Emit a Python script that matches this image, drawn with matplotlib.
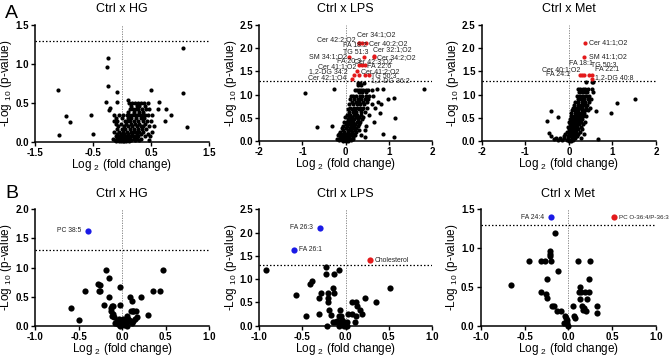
import matplotlib
matplotlib.use("Agg")
import matplotlib.pyplot as plt
import numpy as np

plt.rcParams['font.family'] = ['Liberation Sans', 'DejaVu Sans']
plt.rcParams['mathtext.fontset'] = 'custom'
plt.rcParams['mathtext.rm'] = 'Liberation Sans'
plt.rcParams['mathtext.it'] = 'Liberation Sans:italic'
plt.rcParams['mathtext.bf'] = 'Liberation Sans:bold'

# ---------------- DATA ----------------
titles = ["Ctrl x HG", "Ctrl x LPS", "Ctrl x Met"]

# Panel A - Ctrl x HG (black points only)
A_hg_x = [1.06, -0.24, -0.26, -0.25, -1.11, -0.09, 0.50, 1.06, -0.28, -0.09, 0.11, -0.97, -0.89, -0.54,
          -0.50, -1.09, 1.12, 0.85, 0.74, 0.75, 0.64, -0.20, -0.22,
          0.12, 0.17, 0.22, 0.28, 0.33, 0.38, 0.45,
          0.15, 0.25, 0.30, 0.40,
          0.13, 0.19, 0.24, 0.27, 0.35, 0.41, 0.47, 0.62,
          0.10, 0.20, 0.29, 0.36,
          -0.14, -0.05, 0.02, 0.08, 0.12, 0.18, 0.22, 0.26, 0.31, 0.34, 0.40, 0.45, 0.52,
          -0.10, 0.00, 0.10, 0.16, 0.24, 0.33, 0.38,
          -0.13, -0.08, 0.05, 0.09, 0.14, 0.20, 0.28, 0.36, 0.43, 0.50,
          -0.11, -0.02, 0.07, 0.15, 0.22, 0.30, 0.40,
          -0.07, 0.03, 0.11, 0.17, 0.25, 0.32, 0.37, 0.46, 0.55,
          -0.09, 0.00, 0.06, 0.13, 0.21, 0.27, 0.34, 0.42,
          -0.13, -0.05, 0.02, 0.08, 0.15, 0.19, 0.24, 0.30, 0.37, 0.52,
          -0.08, -0.02, 0.04, 0.10, 0.18, 0.26, 0.33, 0.45,
          -0.11, -0.06, -0.01, 0.03, 0.07, 0.12, 0.17, 0.22, 0.28, 0.40, 0.48,
          -0.15, -0.09, -0.04, 0.00, 0.03, 0.06, 0.09, 0.14, 0.20, 0.25, 0.33,
          -0.12, -0.07, -0.03, 0.01, 0.05, 0.08, 0.11, 0.16, 0.23, 0.30, 0.47,
          -0.10, -0.05, -0.02, 0.02, 0.04, 0.07, 0.12]
A_hg_y = [1.20, 1.07, 0.96, 0.71, 0.66, 0.64, 0.66, 0.63, 0.51, 0.51, 0.54, 0.33, 0.25, 0.34,
          0.10, 0.08, 0.19, 0.34, 0.27, 0.42, 0.51, 0.43, 0.41,
          0.50, 0.50, 0.50, 0.50, 0.50, 0.50, 0.50,
          0.46, 0.46, 0.46, 0.46,
          0.42, 0.42, 0.42, 0.42, 0.42, 0.42, 0.42, 0.42,
          0.38, 0.38, 0.38, 0.38,
          0.34, 0.34, 0.34, 0.34, 0.34, 0.34, 0.34, 0.34, 0.34, 0.34, 0.34, 0.34, 0.34,
          0.30, 0.30, 0.30, 0.30, 0.30, 0.30, 0.30,
          0.27, 0.27, 0.27, 0.27, 0.27, 0.27, 0.27, 0.27, 0.27, 0.27,
          0.23, 0.23, 0.23, 0.23, 0.23, 0.23, 0.23,
          0.20, 0.20, 0.20, 0.20, 0.20, 0.20, 0.20, 0.20, 0.20,
          0.16, 0.16, 0.16, 0.16, 0.16, 0.16, 0.16, 0.16,
          0.13, 0.13, 0.13, 0.13, 0.13, 0.13, 0.13, 0.13, 0.13, 0.13,
          0.10, 0.10, 0.10, 0.10, 0.10, 0.10, 0.10, 0.10,
          0.07, 0.07, 0.07, 0.07, 0.07, 0.07, 0.07, 0.07, 0.07, 0.07, 0.07,
          0.04, 0.04, 0.04, 0.04, 0.04, 0.04, 0.04, 0.04, 0.04, 0.04, 0.04,
          0.02, 0.02, 0.02, 0.02, 0.02, 0.02, 0.02, 0.02, 0.02, 0.02, 0.02,
          0.005, 0.005, 0.005, 0.005, 0.005, 0.005, 0.005]

# Panel A - Ctrl x LPS
A_lps_x = [-0.93, -0.28, 1.81, -0.67, -0.32, 1.13, 1.14, 1.13, 0.87, 0.72, 0.86, 0.97, 0.80,
           0.29, 0.33, 0.43,
           0.28, 0.36,
           0.22, 0.27, 0.31, 0.36, 0.40, 0.46, 0.52, 0.60,
           0.30, 0.38, 0.48,
           0.12, 0.18, 0.25, 0.33, 0.39, 0.47, 0.55, 0.64,
           0.10, 0.20, 0.28, 0.36, 0.44, 0.52,
           0.15, 0.24, 0.31, 0.40, 0.50, 0.75,
           0.08, 0.17, 0.27, 0.34, 0.43, 0.60, 0.82,
           0.10, 0.19, 0.26, 0.33, 0.41, 0.49, 0.67,
           0.05, 0.14, 0.22, 0.30, 0.38,
           0.08, 0.17, 0.25, 0.35, 0.45,
           0.02, 0.11, 0.20, 0.27, 0.35, 0.55,
           -0.02, 0.07, 0.15, 0.23, 0.31, 0.40,
           0.05, 0.13, 0.20, 0.29, 0.38,
           -0.04, 0.03, 0.10, 0.18, 0.26, 0.34, 0.65,
           0.00, 0.08, 0.15, 0.22, 0.30,
           -0.05, 0.04, 0.12, 0.20, 0.28, 0.47,
           -0.08, 0.01, 0.09, 0.17, 0.25,
           -0.06, 0.05, 0.13, 0.21, 0.30, 0.45,
           -0.12, -0.03, 0.06, 0.14, 0.24,
           -0.15, -0.07, 0.02, 0.10, 0.19,
           -0.18, -0.10, -0.02, 0.05, 0.13, 0.22, 0.35,
           -0.14, -0.06, 0.01, 0.08, 0.16, 0.45,
           -0.20, -0.11, -0.04, 0.03, 0.10, 0.18,
           -0.16, -0.08, -0.02, 0.04, 0.12,
           -0.05, 0.00, 0.06]
A_lps_y = [1.03, 1.13, 1.13, 0.31, 0.33, 0.92, 0.49, 0.09, 0.16, 1.13, 1.13, 0.91, 0.60,
           1.26, 1.26, 1.26,
           1.20, 1.20,
           1.10, 1.10, 1.10, 1.10, 1.10, 1.10, 1.10, 1.10,
           1.05, 1.05, 1.05,
           0.97, 0.97, 0.97, 0.97, 0.97, 0.97, 0.97, 0.97,
           0.91, 0.91, 0.91, 0.91, 0.91, 0.91,
           0.85, 0.85, 0.85, 0.85, 0.85, 0.85,
           0.80, 0.80, 0.80, 0.80, 0.80, 0.80, 0.80,
           0.72, 0.72, 0.72, 0.72, 0.72, 0.72, 0.72,
           0.68, 0.68, 0.68, 0.68, 0.68,
           0.63, 0.63, 0.63, 0.63, 0.63,
           0.57, 0.57, 0.57, 0.57, 0.57, 0.57,
           0.52, 0.52, 0.52, 0.52, 0.52, 0.52,
           0.47, 0.47, 0.47, 0.47, 0.47,
           0.42, 0.42, 0.42, 0.42, 0.42, 0.42, 0.42,
           0.37, 0.37, 0.37, 0.37, 0.37,
           0.33, 0.33, 0.33, 0.33, 0.33, 0.33,
           0.28, 0.28, 0.28, 0.28, 0.28,
           0.24, 0.24, 0.24, 0.24, 0.24, 0.24,
           0.20, 0.20, 0.20, 0.20, 0.20,
           0.16, 0.16, 0.16, 0.16, 0.16,
           0.12, 0.12, 0.12, 0.12, 0.12, 0.12, 0.12,
           0.08, 0.08, 0.08, 0.08, 0.08, 0.08,
           0.05, 0.05, 0.05, 0.05, 0.05, 0.05,
           0.02, 0.02, 0.02, 0.02, 0.02,
           0.005, 0.005, 0.005]

A_lps_red_x = [0.39, 0.32, 0.47, 0.32, 0.66, 0.43, 0.08, 0.66, 0.26, 0.38, 0.32, 0.44, 0.19, 0.315, 0.146, 0.44, 0.546]
A_lps_red_y = [2.12, 2.12, 2.12, 2.11, 1.83, 1.81, 1.81, 1.80, 1.515, 1.64, 1.63, 1.64, 1.415, 1.415, 1.336, 1.415, 1.415]
A_lps_red_lab = ["Cer 34:1;O2", "Cer 42:2;O2", "Cer 40:2;O2", "FA 18:2", "Cer 32:1;O2", "TG 51:3",
                 "SM 34:1;O2", "Cer 34:2;O2", "FA 20:3", "Cer 42:3;O2", "Cer 41:1;O2", "FA 22:6",
                 "1,2-DG 34:2", "Cer 41:2;O2", "Cer 42:1;O4", "TG 50:3", "1,2-DG 36:2"]

# Panel A - Ctrl x Met
A_met_x = [1.51, 1.10, 0.96, 0.63, -0.42, -0.245, -0.50, -0.46, -0.40, -0.35, 0.67,
           0.40, 0.52, 0.55,
           0.20, 0.26, 0.32, 0.38, 0.45, 0.52,
           0.23, 0.30, 0.36, 0.42, 0.56,
           0.18, 0.25, 0.33, 0.40, 0.47,
           0.20, 0.28, 0.35, 0.43, 0.50,
           0.15, 0.22, 0.30, 0.38, 0.46,
           0.12, 0.20, 0.27, 0.34, 0.42,
           0.10, 0.17, 0.24, 0.31, 0.39, 0.48,
           0.08, 0.15, 0.22, 0.30, 0.37, 0.44,
           0.06, 0.13, 0.20, 0.27, 0.35,
           0.04, 0.11, 0.18, 0.25, 0.33, 0.40,
           0.02, 0.09, 0.16, 0.23, 0.30,
           0.00, 0.07, 0.14, 0.21, 0.28, 0.36,
           0.03, 0.10, 0.17, 0.24, 0.32,
           -0.02, 0.05, 0.12, 0.19, 0.27,
           0.00, 0.08, 0.15, 0.22, 0.30,
           -0.05, 0.03, 0.10, 0.17, 0.25,
           -0.08, 0.01, 0.07, 0.14, 0.22, 0.35,
           -0.12, -0.03, 0.04, 0.11, 0.19,
           -0.30, -0.20, -0.10, -0.01, 0.07, 0.15, 0.28,
           -0.25, -0.15, -0.05, 0.02, 0.10,
           0.00, 0.05]
A_met_y = [0.905, 0.81, 0.60, 0.64, 0.65, 0.51, 0.44, 0.18, 0.10, 0.05, 0.04,
           1.27, 1.27, 1.27,
           1.12, 1.12, 1.12, 1.12, 1.12, 1.12,
           1.05, 1.05, 1.05, 1.05, 1.05,
           0.97, 0.97, 0.97, 0.97, 0.97,
           0.90, 0.90, 0.90, 0.90, 0.90,
           0.84, 0.84, 0.84, 0.84, 0.84,
           0.78, 0.78, 0.78, 0.78, 0.78,
           0.72, 0.72, 0.72, 0.72, 0.72, 0.72,
           0.66, 0.66, 0.66, 0.66, 0.66, 0.66,
           0.60, 0.60, 0.60, 0.60, 0.60,
           0.54, 0.54, 0.54, 0.54, 0.54, 0.54,
           0.48, 0.48, 0.48, 0.48, 0.48,
           0.42, 0.42, 0.42, 0.42, 0.42, 0.42,
           0.36, 0.36, 0.36, 0.36, 0.36,
           0.30, 0.30, 0.30, 0.30, 0.30,
           0.25, 0.25, 0.25, 0.25, 0.25,
           0.20, 0.20, 0.20, 0.20, 0.20,
           0.15, 0.15, 0.15, 0.15, 0.15, 0.15,
           0.10, 0.10, 0.10, 0.10, 0.10,
           0.06, 0.06, 0.06, 0.06, 0.06, 0.06, 0.06,
           0.03, 0.03, 0.03, 0.03, 0.03,
           0.01, 0.01]

A_met_red_x = [0.36, 0.34, 0.30, 0.46, 0.35, 0.52, 0.26, 0.52]
A_met_red_y = [2.11, 1.81, 1.42, 1.42, 1.42, 1.42, 1.42, 1.33]
A_met_red_lab = ["Cer 41:1;O2", "SM 41:1;O2", "FA 18:1", "TG 50:3", "Cer 40:1;O2", "FA 22:1", "FA 24:1", "1,2-DG 40:8"]

# Panel B - Ctrl x HG
B_hg_x = [-0.59, -0.49, -0.43, -0.28, -0.25, -0.27, -0.25, -0.21, -0.18, -0.15, -0.15, -0.13, -0.12, -0.10,
          -0.13, -0.11, -0.12, -0.09, -0.02, -0.02, -0.04, -0.06, -0.05, -0.03, 0.00, 0.01, 0.03, 0.05,
          0.07, 0.06, 0.02, -0.01, 0.09, 0.11, 0.10, 0.12, 0.13, 0.16, 0.15, 0.17, 0.13, 0.11, 0.22,
          0.30, 0.35, 0.44, 0.47, 0.06, 0.08, -0.08]
B_hg_y = [0.30, 0.09, 0.60, 0.72, 0.70, 0.60, 0.60, 0.36, 0.96, 0.82, 0.50, 0.30, 0.34, 0.34,
          0.25, 0.20, 0.17, 0.15, 0.66, 0.36, 0.12, 0.08, 0.03, 0.00, 0.05, 0.12, 0.05, 0.00,
          0.12, 0.06, 0.02, 0.01, 0.50, 0.42, 0.25, 0.26, 0.26, 0.26, 0.12, 0.15, 0.08, 0.05, 0.50,
          0.19, 0.60, 0.60, 0.96, 0.17, 0.10, 0.05]
B_hg_blue_x = [-0.39]
B_hg_blue_y = [1.63]
B_hg_blue_lab = ["PC 38:5"]

# Panel B - Ctrl x LPS
B_lps_x = [-0.92, -0.57, -0.46, -0.41, -0.39, -0.31, -0.28, -0.31, -0.23, -0.23, -0.21, -0.21, -0.20, -0.22,
           -0.19, -0.17, -0.15, -0.13, -0.13, -0.08, -0.15, -0.12, -0.10, -0.08, -0.06, -0.05, -0.04, -0.08,
           -0.05, -0.02, 0.00, 0.02, 0.01, 0.03, 0.07, 0.07, 0.12, 0.13, 0.12, 0.11, 0.17, 0.19, 0.22,
           0.35, 0.51, -0.02]
B_lps_y = [1.20, 0.66, 0.20, 0.90, 0.96, 0.60, 0.70, 0.26, 1.26, 1.10, 0.70, 0.60, 0.50, 0.00,
           0.34, 0.24, 0.82, 0.70, 1.10, 1.20, 0.07, 0.07, 0.10, 0.20, 0.34, 0.20, 0.12, 0.00,
           0.03, 0.07, 0.00, 0.00, 0.07, 0.26, 0.26, 0.50, 0.50, 0.43, 0.20, 0.07, 0.34, 0.26, 0.60,
           0.50, 0.80, 0.00]
B_lps_blue_x = [-0.30, -0.60]
B_lps_blue_y = [2.10, 1.63]
B_lps_blue_lab = ["FA 26:3", "FA 26:1"]
B_lps_red_x = [0.28]
B_lps_red_y = [1.41]
B_lps_red_lab = ["Cholesterol"]

# Panel B - Ctrl x Met
B_met_x = [-0.66, -0.45, -0.31, -0.27, -0.20, -0.31, -0.25, -0.24, -0.24, -0.21, -0.21, -0.21, -0.19, -0.16,
           -0.15, -0.13, -0.12, -0.08, -0.04, -0.03, -0.05, -0.02, -0.01, 0.00, 0.05, 0.06, 0.08, 0.11,
           0.12, 0.13, 0.13, 0.15, 0.17, 0.18, 0.19, 0.21, 0.23, 0.24, 0.25, 0.33, 0.33, 0.16, 0.20]
B_met_y = [0.53, 0.83, 0.83, 0.83, 0.83, 0.43, 0.41, 0.36, 0.60, 0.96, 0.93, 0.90, 0.26, 0.26,
           1.20, 0.19, 0.71, 0.19, 0.13, 0.10, 0.03, 0.07, 0.03, 0.00, 0.26, 0.13, 0.10, 0.83,
           0.43, 0.50, 0.34, 0.43, 0.20, 0.23, 0.43, 0.34, 0.43, 0.60, 0.83, 0.26, 0.17, 0.26, 0.19]
B_met_blue_x = [-0.20]
B_met_blue_y = [1.40]
B_met_blue_lab = ["FA 24:4"]
B_met_red_x = [0.52]
B_met_red_y = [1.40]
B_met_red_lab = ["PC O-36:4/P-36:3"]

# axis settings per panel
A_xlims = [(-1.5, 1.5), (-2, 2), (-2, 2)]
A_xticks = [[-1.5, -0.5, 0.5, 1.5], [-2, -1, 0, 1, 2], [-2, -1, 0, 1, 2]]
A_ylims = [(0, 1.5), (0, 2.5), (0, 2.5)]
B_ylims = [(0, 2.0), (0, 2.5), (0, 1.5)]
threshold = 1.3

# ---------------- PLOT ----------------
W, H = 670, 358
fig = plt.figure(figsize=(W / 100, H / 100), dpi=100)

def px_axes(x0, y0, x1, y1):
    return fig.add_axes([x0 / W, 1 - y1 / H, (x1 - x0) / W, (y1 - y0) / H])

RED = '#e31a1c'
BLUE = '#1a1ae6'

def style(ax, xlim, ylim, xticks, xfmt, title, wpx, hpx):
    ax.set_xlim(*xlim)
    ax.set_ylim(*ylim)
    ax.set_xticks(xticks)
    ax.set_xticklabels([xfmt(t) for t in xticks])
    yt = np.arange(ylim[0], ylim[1] + 0.01, 0.5)
    ax.set_yticks(yt)
    ax.set_yticklabels(["%.1f" % t for t in yt])
    for s in ['top', 'right']:
        ax.spines[s].set_visible(False)
    for s in ['left', 'bottom']:
        ax.spines[s].set_linewidth(1.1)
        ax.spines[s].set_color('black')
    ax.tick_params(axis='both', length=3, width=1.0, labelsize=7, pad=1.5, color='black')
    for lab in ax.get_xticklabels() + ax.get_yticklabels():
        lab.set_fontweight('bold')
    ax.axhline(threshold, color='black', ls=(0, (1.2, 1.6)), lw=0.9, zorder=1)
    ax.axvline(0, color='#777777', ls=(0, (1.5, 1.5)), lw=0.6, zorder=1)
    ax.set_title(title, fontsize=9, pad=9)
    ax.set_xlabel(r'Log $_{2}$ (fold change)', fontsize=8.5)
    ax.set_ylabel(r'-Log $_{10}$ (p-value)', fontsize=8.5)
    ax.xaxis.set_label_coords(0.5, -15.5 / hpx)
    ax.yaxis.set_label_coords(-20.5 / wpx, 0.5)

fmtA0 = lambda t: "%.1f" % t
fmtInt = lambda t: "%d" % t

A_boxes = [(35, 25, 209, 141.7), (259.3, 25, 432, 141), (481.7, 25, 656, 141)]
B_boxes = [(35, 209.3, 209.3, 325.7), (259.3, 209.3, 432, 325.7), (480.7, 209.3, 656, 325.7)]
axA = [px_axes(*b) for b in A_boxes]
axB = [px_axes(*b) for b in B_boxes]

sA = 9
sB = 20

# A row
axA[0].scatter(A_hg_x, A_hg_y, s=sA, c='black', lw=0, clip_on=False, zorder=3)
axA[1].scatter(A_lps_x, A_lps_y, s=sA, c='black', lw=0, clip_on=False, zorder=3)
axA[1].scatter(A_lps_red_x, A_lps_red_y, s=sA, c=RED, lw=0, clip_on=False, zorder=4)
axA[2].scatter(A_met_x, A_met_y, s=sA, c='black', lw=0, clip_on=False, zorder=3)
axA[2].scatter(A_met_red_x, A_met_red_y, s=sA, c=RED, lw=0, clip_on=False, zorder=4)

for i, ax in enumerate(axA):
    b = A_boxes[i]
    style(ax, A_xlims[i], A_ylims[i], A_xticks[i], fmtA0 if i == 0 else fmtInt, titles[i],
          b[2] - b[0], b[3] - b[1])

# label placement for A-LPS (text anchor in data units, alignment)
lps_lab_pos = [(0.254, 2.30, 'left'), (0.238, 2.18, 'right'), (0.546, 2.11, 'left'), (-0.07, 2.05, 'left'),
               (0.625, 1.98, 'left'), (-0.07, 1.91, 'left'), (0.023, 1.83, 'right'), (0.725, 1.80, 'left'),
               (-0.21, 1.72, 'left'), (0.19, 1.71, 'left'), (0.255, 1.61, 'right'), (0.50, 1.61, 'left'),
               (0.06, 1.50, 'right'), (0.354, 1.50, 'left'), (0.007, 1.36, 'right'), (0.59, 1.40, 'left'),
               (0.585, 1.30, 'left')]
for lab, (tx, ty, ha) in zip(A_lps_red_lab, lps_lab_pos):
    axA[1].text(tx, ty, lab, fontsize=5.0, ha=ha, va='center', color='#222222', zorder=5)

met_lab_pos = [(0.47, 2.12, 'left'), (0.46, 1.83, 'left'), (0.01, 1.67, 'left'), (0.50, 1.62, 'left'),
               (0.26, 1.545, 'right'), (0.59, 1.545, 'left'), (0.03, 1.44, 'right'), (0.61, 1.37, 'left')]
for lab, (tx, ty, ha) in zip(A_met_red_lab, met_lab_pos):
    axA[2].text(tx, ty, lab, fontsize=5.0, ha=ha, va='center', color='#222222', zorder=5)

# B row
axB[0].scatter(B_hg_x, B_hg_y, s=sB, c='black', lw=0, clip_on=False, zorder=3)
axB[0].scatter(B_hg_blue_x, B_hg_blue_y, s=sB, c=BLUE, lw=0, clip_on=False, zorder=4)
axB[1].scatter(B_lps_x, B_lps_y, s=sB, c='black', lw=0, clip_on=False, zorder=3)
axB[1].scatter(B_lps_blue_x, B_lps_blue_y, s=sB, c=BLUE, lw=0, clip_on=False, zorder=4)
axB[1].scatter(B_lps_red_x, B_lps_red_y, s=sB, c=RED, lw=0, clip_on=False, zorder=4)
axB[2].scatter(B_met_x, B_met_y, s=sB, c='black', lw=0, clip_on=False, zorder=3)
axB[2].scatter(B_met_blue_x, B_met_blue_y, s=sB, c=BLUE, lw=0, clip_on=False, zorder=4)
axB[2].scatter(B_met_red_x, B_met_red_y, s=sB, c=RED, lw=0, clip_on=False, zorder=4)

Bxt = [-1.0, -0.5, 0.0, 0.5, 1.0]
for i, ax in enumerate(axB):
    b = B_boxes[i]
    style(ax, (-1, 1), B_ylims[i], Bxt, fmtA0, titles[i], b[2] - b[0], b[3] - b[1])

def lab_pts(ax, xs, ys, labs, sides, fs=4.9):
    for x, y, l, side in zip(xs, ys, labs, sides):
        off = (-5, 0) if side == 'left' else (3.5, 0)
        ax.annotate(l, (x, y), xytext=off, textcoords='offset points', fontsize=fs,
                    ha='right' if side == 'left' else 'left', va='center', color='#222222')

lab_pts(axB[0], B_hg_blue_x, B_hg_blue_y, B_hg_blue_lab, ['left'])
lab_pts(axB[1], B_lps_blue_x, B_lps_blue_y, B_lps_blue_lab, ['left', 'right'])
lab_pts(axB[1], B_lps_red_x, B_lps_red_y, B_lps_red_lab, ['right'])
lab_pts(axB[2], B_met_blue_x, B_met_blue_y, B_met_blue_lab, ['left'])
lab_pts(axB[2], B_met_red_x, B_met_red_y, B_met_red_lab, ['right'], fs=4.5)

fig.text(5 / W, 1 - 14 / H, 'A', fontsize=14, va='center', ha='left')
fig.text(5 / W, 1 - 194 / H, 'B', fontsize=14, va='center', ha='left')

fig.savefig('out.png', dpi=100)
